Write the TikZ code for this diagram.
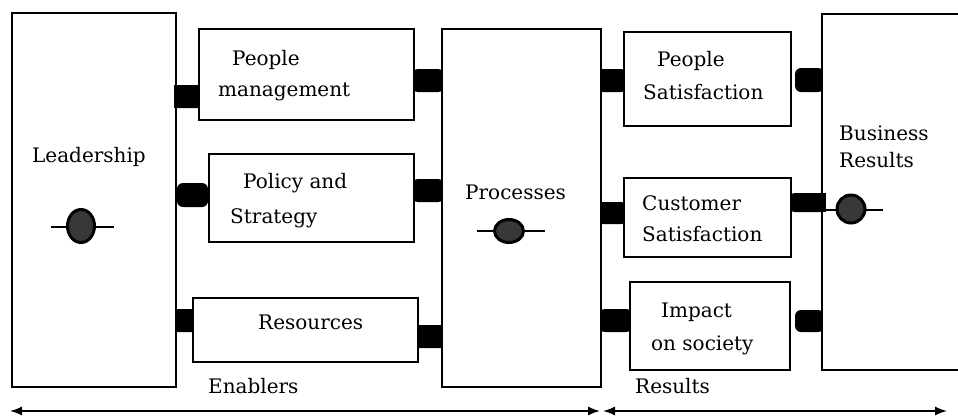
\documentclass[tikz,border=0pt]{standalone}
\usepackage{fontspec}
\setmainfont{DejaVu Serif}
\usetikzlibrary{arrows.meta,shapes.geometric}
\tikzset{
  box/.style={draw=black, line width=1.6bp, fill=white, inner sep=0pt},
  blob/.style={fill=black, rounded corners=6bp, inner sep=0pt},
  sqblob/.style={fill=black, rounded corners=2bp, inner sep=0pt},
  lbl/.style={anchor=base west, inner sep=0pt, font=\fontsize{20bp}{24bp}\selectfont},
  pend/.style={ellipse, draw=black, line width=3bp, fill=black!78, inner sep=0pt},
  pendline/.style={line width=2.4bp},
  arr/.style={line width=1.5bp, {Latex[length=12bp,width=9bp]}-{Latex[length=12bp,width=9bp]}}
}
\newcommand{\boxat}[6][box]{%
  \node[#1, minimum width=#4bp-#2bp, minimum height=#5bp-#3bp] (#6) at ({(#2+#4)/2},{(#3+#5)/2}) {};}
\begin{document}
\begin{tikzpicture}[x=1bp,y=-1bp]
\useasboundingbox (0,0) rectangle (958,419);
\fill[white] (0,0) rectangle (958,419);
\clip (0,0) rectangle (958,419);

% connector blobs (drawn first, boxes over them)
\boxat[sqblob]{174}{85}{201}{108}{b1}
\boxat[blob]{177}{183}{208}{207}{b2}
\boxat[sqblob]{174}{309}{195}{332}{b3}
\boxat[blob]{412}{69}{444}{92}{b4}
\boxat[blob]{412}{179}{444}{202}{b5}
\boxat[sqblob]{416}{325}{444}{348}{b6}
\boxat[blob]{597}{69}{627}{92}{b7}
\boxat[blob]{597}{202}{627}{224}{b8}
\boxat[blob]{599}{309}{632}{332}{b9}
\boxat[blob]{795}{68}{824}{92}{b10}
\boxat[blob]{789}{193}{826}{212}{b11}
\boxat[blob]{795}{310}{824}{332}{b12}

% boxes
\boxat{12}{13}{176}{387}{lead}
\boxat{199}{29}{414}{120}{pm}
\boxat{209}{154}{414}{242}{ps}
\boxat{193}{298}{418}{362}{res}
\boxat{442}{29}{601}{387}{proc}
\boxat{624}{32}{791}{126}{psat}
\boxat{624}{178}{791}{257}{csat}
\boxat{630}{282}{790}{370}{imp}
\boxat{822}{14}{975}{370}{bus}

% redraw blob parts over box borders where they join
\fill[black] (b1.west) ++(0,-11.5) rectangle ++(4,23);
\fill[black] (b11.east) ++(-4,-9.5) rectangle ++(4,19);

% labels
\node[lbl] (tlead) at (32,162) {Leadership};
\node[lbl] (tpm1) at (232,65) {People};
\node[lbl] (tpm2) at (218,96) {management};
\node[lbl] (tps1) at (243,188) {Policy and};
\node[lbl] (tps2) at (230,223) {Strategy};
\node[lbl] (tres) at (258,329) {Resources};
\node[lbl] (tproc) at (465,199) {Processes};
\node[lbl] (tpsat1) at (657,66) {People};
\node[lbl] (tpsat2) at (643,99) {Satisfaction};
\node[lbl] (tcs1) at (642,210) {Customer};
\node[lbl] (tcs2) at (642,241) {Satisfaction};
\node[lbl] (timp1) at (661,317) {Impact};
\node[lbl] (timp2) at (651,350) {on society};
\node[lbl] (tbus1) at (839,140) {Business};
\node[lbl] (tbus2) at (839,167) {Results};
\node[lbl] (tenab) at (208,393) {Enablers};
\node[lbl] (tres2) at (635,393) {Results};

% pendulum markers
\coordinate (m1a) at (51,227); \coordinate (m1b) at (114,227);
\draw[pendline] (m1a) -- (m1b);
\node[pend, minimum width=27bp, minimum height=33bp] (p1) at (81,226) {};
\coordinate (m2a) at (477,231); \coordinate (m2b) at (545,231);
\draw[pendline] (m2a) -- (m2b);
\node[pend, minimum width=29bp, minimum height=23bp] (p2) at (509,231) {};
\coordinate (m3a) at (823,210); \coordinate (m3b) at (883,210);
\draw[pendline] (m3a) -- (m3b);
\node[pend, minimum width=28bp, minimum height=28bp] (p3) at (851,209) {};

% bottom arrows
\coordinate (aL) at (10,411); \coordinate (aM1) at (600,411);
\coordinate (aM2) at (603,411); \coordinate (aR) at (947,411);
\draw[arr] (aL) -- (aM1);
\draw[arr] (aM2) -- (aR);
\end{tikzpicture}
\end{document}
